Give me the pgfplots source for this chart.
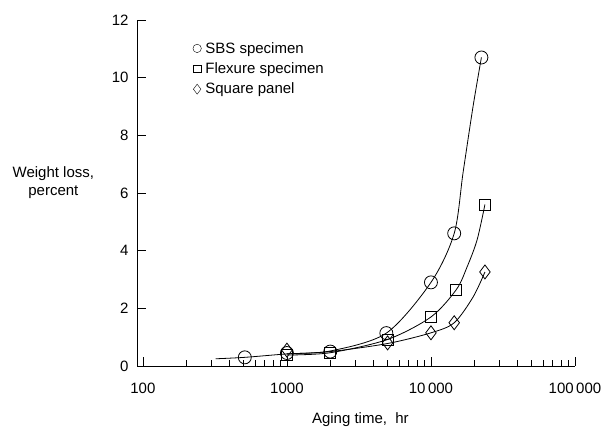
\documentclass[border=0pt]{standalone}
\usepackage{pgfplots}
\pgfplotsset{compat=1.18}
\usepackage{fontspec}
\setmainfont{Liberation Sans}
\newcommand\lbl{\fontsize{15pt}{18pt}\selectfont}

\begin{document}
\begin{tikzpicture}
\begin{axis}[
  xmode=log,
  scale only axis, width=438pt, height=346pt,
  xmin=91, xmax=100000, ymin=0, ymax=12,
  axis x line*=bottom, axis y line*=left,
  axis line style={-, line width=0.9pt},
  xtick={100,1000,10000,100000},
  xticklabels={100,1000,10\,000,100\,000},
  ytick={0,2,4,6,8,10,12},
  tick align=inside,
  major tick length=9pt, minor tick length=6pt,
  tick style={black, line width=0.8pt},
  /pgf/number format/assume math mode=true,
  tick label style={font=\lbl},
  xticklabel style={yshift=-14pt},
  yticklabel style={xshift=-5pt},
  clip=false,
  legend cell align=left,
  legend style={draw=none, fill=none, at={(0.125,0.945)}, anchor=north west,
    font=\lbl, row sep=4pt, inner sep=1pt,
    nodes={inner xsep=4pt}},
  legend image code/.code={\draw[#1] plot coordinates {(0.18cm,0cm)};},
]
\addlegendimage{only marks, mark=o, mark size=4.2pt, black, thin}
\addlegendentry{SBS specimen}
\addlegendimage{only marks, mark=square, mark size=3.8pt, black, thin}
\addlegendentry{Flexure specimen}
\addlegendimage{only marks, mark=diamond, mark size=5pt, black, thin}
\addlegendentry{Square panel}

% fitted curves
\addplot[black, line width=0.8pt, smooth, forget plot] coordinates {
(320,0.25) (510,0.3) (1000,0.42) (2000,0.52) (4900,1.14) (10000,2.9) (14500,4.6) (16700,6.7) (19600,9.0) (22400,10.7)};
\addplot[black, line width=0.8pt, smooth, forget plot] coordinates {
(1000,0.38) (2000,0.46) (5000,0.92) (10000,1.7) (15000,2.65) (17800,3.43) (20900,4.37) (23700,5.6)};
\addplot[black, line width=0.8pt, smooth, forget plot] coordinates {
(1000,0.42) (2000,0.5) (5000,0.78) (10000,1.15) (14500,1.5) (19600,2.39) (23700,3.26)};

% data points
\addplot[only marks, mark=o, mark size=6.5pt, black, line width=0.8pt, fill=white, forget plot] coordinates {
(510,0.3) (1000,0.45) (2000,0.5) (4900,1.14) (10000,2.9) (14500,4.6) (22400,10.7)};
\addplot[only marks, mark=square, mark size=5.5pt, black, line width=0.8pt, forget plot] coordinates {
(1000,0.4) (2000,0.45) (5000,0.9) (10000,1.7) (15000,2.65) (23700,5.6)};
\addplot[only marks, mark=diamond, mark size=7pt, black, line width=0.8pt, forget plot] coordinates {
(1000,0.55) (5000,0.8) (10000,1.15) (14500,1.5) (23700,3.26)};

\node[font=\lbl, align=center, anchor=center] at (rel axis cs:-0.191,0.53) {Weight loss,\\percent};
\node[font=\lbl, anchor=center] at (rel axis cs:0.51,-0.155) {Aging time,\ \ hr};
\path (rel axis cs:-0.3128,-0.1965) rectangle (rel axis cs:1.0868,1.0578);
\end{axis}
\end{tikzpicture}
\end{document}
